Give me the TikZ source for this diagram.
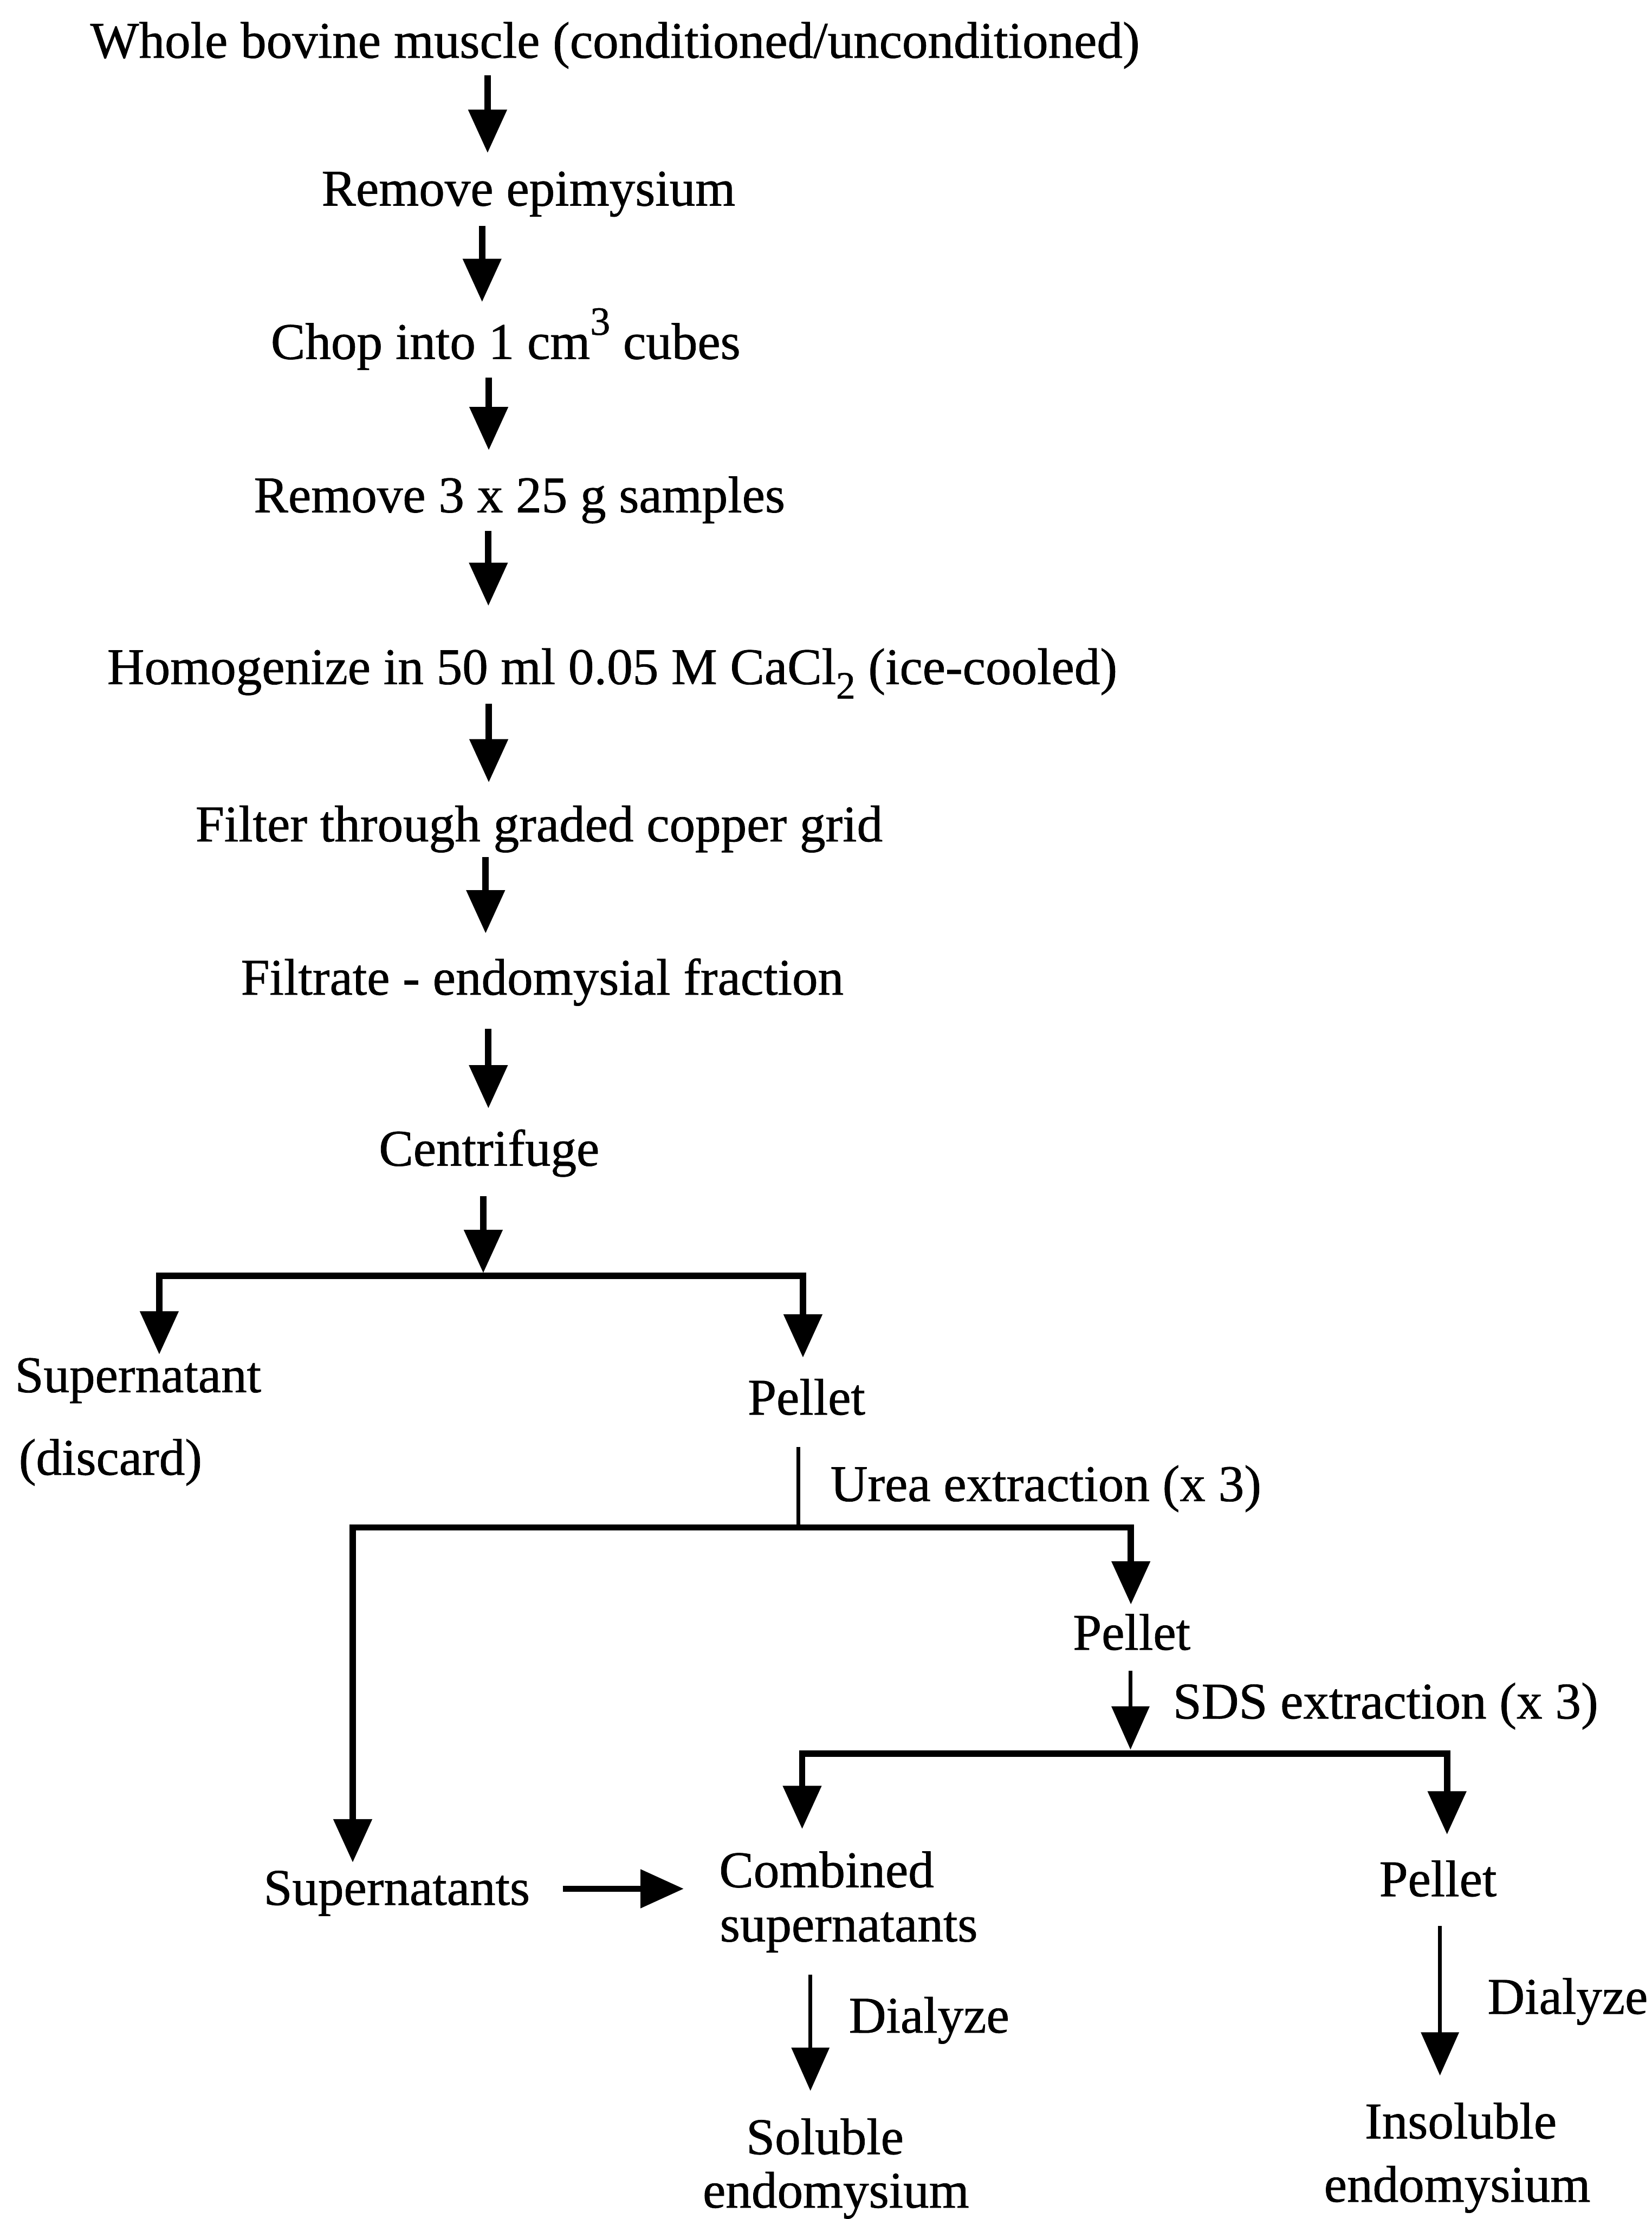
\documentclass[tikz,border=0pt]{standalone}
\usepackage{fontspec}
\setmainfont{Liberation Serif}[FakeBold=0.8]
\usetikzlibrary{arrows.meta}
\begin{document}
\begin{tikzpicture}[
  txt/.style={inner sep=0pt, outer sep=0pt, font=\fontsize{37.3}{44}\selectfont},
  ctr/.style={txt, anchor=base},
  lft/.style={txt, anchor=base west},
  arr/.style={line width=4.6pt, line join=miter, -{Triangle[length=1.1cm,width=0.95cm]}},
  tarr/.style={line width=2.8pt, -{Triangle[length=1.1cm,width=0.95cm]}},
  tline/.style={line width=2.8pt},
]
\fill[white] (0,0) rectangle (42.01,-56.44);
\path[use as bounding box] (0,0) rectangle (42.01,-56.44);

% text nodes
\node[ctr] (whole) at (15.64,-1.47) {Whole bovine muscle (conditioned/unconditioned)};
\node[ctr] (epim) at (13.44,-5.23) {Remove epimysium};
\node[ctr] (chop) at (12.86,-9.13) {Chop into 1 cm\raisebox{0.47em}{\fontsize{29}{29}\selectfont 3} cubes};
\node[ctr] (samp) at (13.21,-13.03) {Remove 3 x 25 g samples};
\node[ctr] (homo) at (15.57,-17.40) {Homogenize in 50 ml 0.05 M CaCl\raisebox{-0.28em}{\fontsize{28}{28}\selectfont 2} (ice-cooled)};
\node[ctr] (filt) at (13.71,-21.40) {Filter through graded copper grid};
\node[ctr] (fltr) at (13.79,-25.30) {Filtrate - endomysial fraction};
\node[ctr] (cent) at (12.44,-29.65) {Centrifuge};
\node[lft] (sup) at (0.38,-35.41) {Supernatant};
\node[lft] (disc) at (0.48,-37.51) {(discard)};
\node[ctr] (pel1) at (20.51,-35.98) {Pellet};
\node[lft] (urea) at (21.12,-38.18) {Urea extraction (x 3)};
\node[ctr] (pel2) at (28.78,-41.96) {Pellet};
\node[lft] (sds) at (29.83,-43.71) {SDS extraction (x 3)};
\node[ctr] (sups) at (10.09,-48.45) {Supernatants};
\node[lft] (comb) at (18.29,-48.00) {Combined};
\node[lft] (comb2) at (18.31,-49.38) {supernatants};
\node[ctr] (pel3) at (36.57,-48.23) {Pellet};
\node[lft] (dia1) at (21.59,-51.70) {Dialyze};
\node[lft] (dia2) at (37.83,-51.22) {Dialyze};
\node[ctr] (sol) at (20.98,-54.79) {Soluble};
\node[ctr] (sol2) at (21.26,-56.15) {endomysium};
\node[ctr] (ins) at (37.15,-54.39) {Insoluble};
\node[ctr] (ins2) at (37.06,-56.00) {endomysium};

% connector end points
\coordinate (a1s) at (12.40,-1.91);  \coordinate (a1e) at (12.40,-3.89);
\coordinate (a2s) at (12.26,-5.74);  \coordinate (a2e) at (12.26,-7.68);
\coordinate (a3s) at (12.43,-9.61);  \coordinate (a3e) at (12.43,-11.45);
\coordinate (a4s) at (12.42,-13.50); \coordinate (a4e) at (12.42,-15.41);
\coordinate (a5s) at (12.43,-17.90); \coordinate (a5e) at (12.43,-19.90);
\coordinate (a6s) at (12.35,-21.80); \coordinate (a6e) at (12.35,-23.74);
\coordinate (a7s) at (12.42,-26.17); \coordinate (a7e) at (12.42,-28.19);
\coordinate (a8s) at (12.29,-30.43); \coordinate (a8e) at (12.29,-32.38);
\coordinate (b1l) at (4.05,-32.45);  \coordinate (b1r) at (20.42,-32.45);
\coordinate (b1lt) at (4.05,-34.45); \coordinate (b1rt) at (20.42,-34.53);
\coordinate (u1) at (20.30,-36.80);  \coordinate (u2) at (20.30,-38.85);
\coordinate (b2l) at (8.97,-38.85);  \coordinate (b2r) at (28.76,-38.85);
\coordinate (b2lt) at (8.97,-47.37); \coordinate (b2rt) at (28.76,-40.81);
\coordinate (s1) at (28.75,-42.49);  \coordinate (s2) at (28.75,-44.50);
\coordinate (b3l) at (20.40,-44.60); \coordinate (b3r) at (36.80,-44.60);
\coordinate (b3lt) at (20.40,-46.52); \coordinate (b3rt) at (36.80,-46.66);
\coordinate (h1) at (14.31,-48.04);  \coordinate (h2) at (17.39,-48.04);
\coordinate (d1s) at (20.61,-50.23); \coordinate (d1e) at (20.61,-53.18);
\coordinate (d2s) at (36.62,-48.99); \coordinate (d2e) at (36.62,-52.79);

% main chain
\draw[arr] (a1s) -- (a1e);
\draw[arr] (a2s) -- (a2e);
\draw[arr] (a3s) -- (a3e);
\draw[arr] (a4s) -- (a4e);
\draw[arr] (a5s) -- (a5e);
\draw[arr] (a6s) -- (a6e);
\draw[arr] (a7s) -- (a7e);
\draw[arr] (a8s) -- (a8e);

% first split
\draw[arr] (b1r) -- (b1l) -- (b1lt);
\draw[arr] (b1l) -- (b1r) -- (b1rt);

% urea extraction
\draw[tline] (u1) -- (u2);
\draw[arr] (b2r) -- (b2l) -- (b2lt);
\draw[arr] (b2l) -- (b2r) -- (b2rt);

% SDS extraction
\draw[tarr] (s1) -- (s2);
\draw[arr] (b3r) -- (b3l) -- (b3lt);
\draw[arr] (b3l) -- (b3r) -- (b3rt);

% supernatants to combined
\draw[arr] (h1) -- (h2);

% dialysis
\draw[tarr] (d1s) -- (d1e);
\draw[tarr] (d2s) -- (d2e);
\end{tikzpicture}
\end{document}
